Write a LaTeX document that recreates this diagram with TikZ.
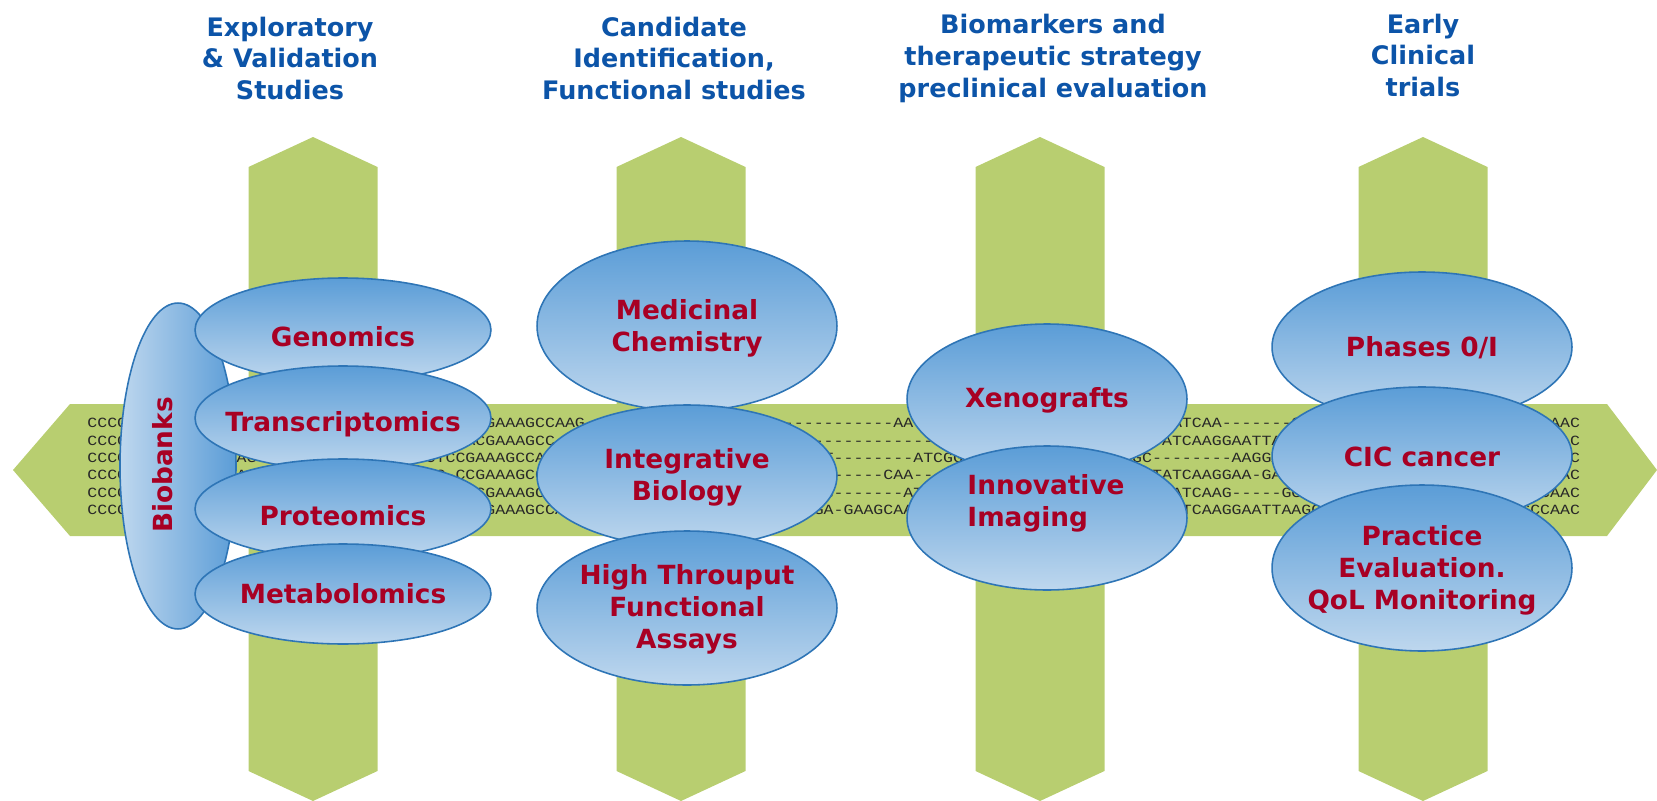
\documentclass[tikz,border=0pt]{standalone}
\usepackage{fontspec}
\setmainfont{DejaVu Sans}
\newfontfamily\seqfont[FakeStretch=1.18,Ligatures=TeXOff]{Liberation Mono}
\usetikzlibrary{shapes.geometric}

\definecolor{leaf}{RGB}{184,206,112}
\definecolor{skyTop}{RGB}{91,157,215}
\definecolor{skyLow}{RGB}{190,215,238}
\definecolor{rim}{RGB}{46,117,182}
\definecolor{wine}{RGB}{168,0,36}
\definecolor{navy}{RGB}{12,84,168}
\definecolor{seqgray}{RGB}{40,40,40}

\tikzset{
  blob/.style={ellipse,draw=rim,line width=0.9pt,top color=skyTop,bottom color=skyLow,inner sep=0pt},
  bank/.style={ellipse,draw=rim,line width=0.9pt,left color=skyLow,right color=skyTop,inner sep=0pt},
  tag/.style={font=\bfseries\fontsize{15}{18.2}\selectfont,text=wine,align=center},
  phase/.style={font=\bfseries\fontsize{14.5}{18.2}\selectfont,text=navy,align=center},
  dna/.style={font=\seqfont\fontsize{8}{9}\selectfont,text=seqgray,inner sep=0pt,anchor=west}
}

\begin{document}
\begin{tikzpicture}[x=0.02cm,y=-0.02cm]
  \useasboundingbox (0,0) rectangle (1657,801);
  \fill[leaf] (13,470) -- (70,404) -- (1607,404) -- (1657,470) -- (1607,536) -- (70,536) -- cycle;
  \fill[leaf] (313,137) -- (377.5,167) -- (377.5,771) -- (313,801) -- (248.5,771) -- (248.5,167) -- cycle;
  \fill[leaf] (681,137) -- (745.5,167) -- (745.5,771) -- (681,801) -- (616.5,771) -- (616.5,167) -- cycle;
  \fill[leaf] (1040,137) -- (1104.5,167) -- (1104.5,771) -- (1040,801) -- (975.5,771) -- (975.5,167) -- cycle;
  \fill[leaf] (1423,137) -- (1487.5,167) -- (1487.5,771) -- (1423,801) -- (1358.5,771) -- (1358.5,167) -- cycle;

  \node[dna] (row0) at (87,423) {CCCCAGGTTCGATCCAGTGACCTTAGGCATCGATCGGTTCGAAAGCCAAG-------------------------------AATCGGATCCGTAGCAATGCTTCCGACTATCAA-------GGAATTCCGGTACGATCGTTAGCCGCAAC};
  \node[dna] (row1) at (87,440.4) {CCCCAGGTACGATCCAGTGACGTTAGGCATCGTTCGGTACGAAAGCC--------------------------------------TCAGGATCCGTAGCAATGCTTCTATCAAGGAATTAGGCATCCGATTGCAAGTCCGATAGCTGAAC};
  \node[dna] (row2) at (87,457.8) {CCCCTGGAACGTTCCAGTGACCTTAGGCATGGATCTCCGAAAGCCAAGTTCGGATCCAGTAGCTTGACCGATGCT--------ATCGGTACCTTAGGCAATCGTCGC--------AAGGATCCTTAGCAAGTCCGATTGCAGGCTTAAAC};
  \node[dna] (row3) at (87,475.2) {CCCCTGGAACGTTCCAGTGACCTTAGGCATGGATCG-CCGAAAGCCAAGTTCGGATCCAGTAGCTTGACCGATGC-----CAA----GGTACCTTAGGCAATCGTTCTATCAAGGAA-GATCCTTAGCAAGTCCGATTGCAGGCTTAAAC};
  \node[dna] (row4) at (87,492.6) {CCCCTGGAACGTTCCAGTGACCTTAGGCATGGATCGTACCGAAAGCCAAGTTCGGATCCAGTAGCTTGACCGATG-------ATCGGATCCGTAGCAATGCTTCCGACTATCAAG-----GGAATTCCGGTACGATCGTTAGCCGCCAAC};
  \node[dna] (row5) at (87,510) {CCCCAGGTTCGATCCAGTGACCTTAGGCATCGATCGGTTCGAAAGCCAAGTTCGGATCCAGTAGCTTGACCGAGA-GAAGCAATCGGATCCGTAGCAATGCTTCCGACTATCAAGGAATTAAGGATCCTTAGCAAGTCCGATTGGCCAAC};

  \node[bank,minimum width=2.32cm,minimum height=6.52cm] (banks) at (178,466) {};
  \node[tag,rotate=90] (banksT) at (163,465) {Biobanks};
  \node[blob,minimum width=5.92cm,minimum height=2.08cm] (genom) at (343,330) {};
  \node[tag] (genomT) at (343,337) {Genomics};
  \node[blob,minimum width=5.92cm,minimum height=2.08cm] (trans) at (343,418) {};
  \node[tag] (transT) at (343,424) {Transcriptomics};
  \node[blob,minimum width=5.92cm,minimum height=2.0cm] (prot) at (343,509) {};
  \node[tag] (protT) at (343,516) {Proteomics};
  \node[blob,minimum width=5.92cm,minimum height=2.0cm] (metab) at (343,594) {};
  \node[tag] (metabT) at (343,594) {Metabolomics};

  \node[blob,minimum width=6.0cm,minimum height=3.4cm] (medchem) at (687,326) {};
  \node[tag] (medchemT) at (687,328) {Medicinal\\Chemistry};
  \node[blob,minimum width=6.0cm,minimum height=2.84cm] (integ) at (687,476) {};
  \node[tag] (integT) at (687,477) {Integrative\\Biology};
  \node[blob,minimum width=6.0cm,minimum height=3.08cm] (htfa) at (687,608) {};
  \node[tag] (htfaT) at (687,609) {High Throuput\\Functional\\Assays};

  \node[blob,minimum width=5.6cm,minimum height=3.0cm] (xeno) at (1047,399) {};
  \node[tag] (xenoT) at (1047,400) {Xenografts};
  \node[blob,minimum width=5.6cm,minimum height=2.88cm] (imag) at (1047,518) {};
  \node[tag,align=left] (imagT) at (1046,503) {Innovative\\Imaging};

  \node[blob,minimum width=6.0cm,minimum height=3.0cm] (phas) at (1422,347) {};
  \node[tag] (phasT) at (1422,348) {Phases 0/I};
  \node[blob,minimum width=6.0cm,minimum height=2.76cm] (cic) at (1422,456) {};
  \node[tag] (cicT) at (1422,457) {CIC cancer};
  \node[blob,minimum width=6.0cm,minimum height=3.32cm] (qol) at (1422,568) {};
  \node[tag] (qolT) at (1422,570) {Practice\\Evaluation.\\QoL Monitoring};

  \node[phase] (explo) at (290,58.5) {Exploratory\\\& Validation\\Studies};
  \node[phase] (cand) at (674,58.5) {Candidate\\Identification,\\Functional studies};
  \node[phase] (bmark) at (1053,58.5) {Biomarkers and\\therapeutic strategy\\preclinical evaluation};
  \node[phase] (early) at (1423,55.5) {Early\\Clinical\\trials};
\end{tikzpicture}
\end{document}
